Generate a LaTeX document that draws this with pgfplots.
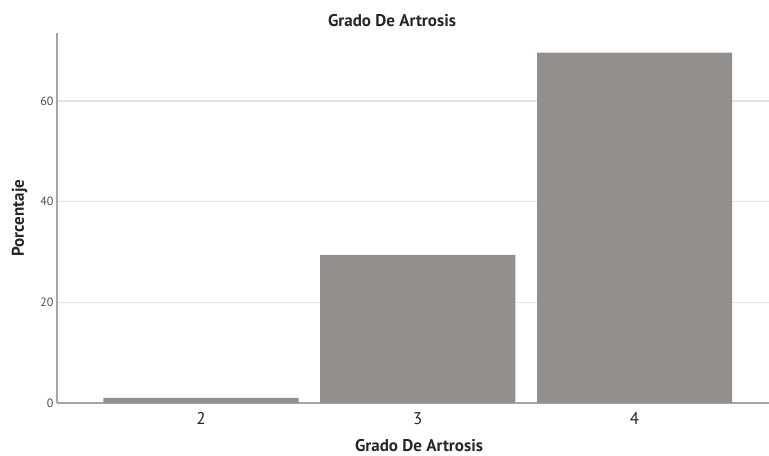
\documentclass[border=0pt]{standalone}
\usepackage{pgfplots}
\pgfplotsset{compat=1.18}
\usepackage{fontspec}
\setmainfont{PT Sans}
\definecolor{barc}{RGB}{147,143,141}
\definecolor{gridc}{RGB}{228,228,228}
\definecolor{axc}{RGB}{165,165,165}
\begin{document}
\begin{tikzpicture}
\path[use as bounding box] (0,0) rectangle (769bp,456bp);
\begin{axis}[
  at={(57bp,53bp)}, anchor=south west,
  scale only axis, width=712bp, height=370bp,
  xmin=1.336, xmax=4.62, ymin=0, ymax=73.5,
  ybar, bar width=0.9,
  axis lines=left, axis line style={axc, line width=1.2bp, -},
  xtick={2,3,4}, ytick={0,20,40,60},
  major tick length=0pt,
  ymajorgrids, grid style={gridc, line width=1.5bp},
  yticklabel style={font=\fontsize{12bp}{13bp}\selectfont, text=black!70},
  xticklabel style={font=\fontsize{17bp}{18bp}\selectfont, text=black!85, anchor=center, yshift=-15.5bp},
  /pgf/number format/assume math mode=true,
  clip=false,
]
\addplot[fill=barc, draw=none] coordinates {(2,1.0) (3,29.4) (4,69.6)};
\end{axis}
\node[font=\fontsize{17bp}{18bp}\selectfont\bfseries, text=black!85] at (392bp,435bp) {Grado De Artrosis};
\node[font=\fontsize{17bp}{18bp}\selectfont\bfseries, text=black!85] at (419bp,10bp) {Grado De Artrosis};
\node[font=\fontsize{17bp}{18bp}\selectfont\bfseries, text=black!85, rotate=90] at (19.5bp,238bp) {Porcentaje};
\end{tikzpicture}
\end{document}
